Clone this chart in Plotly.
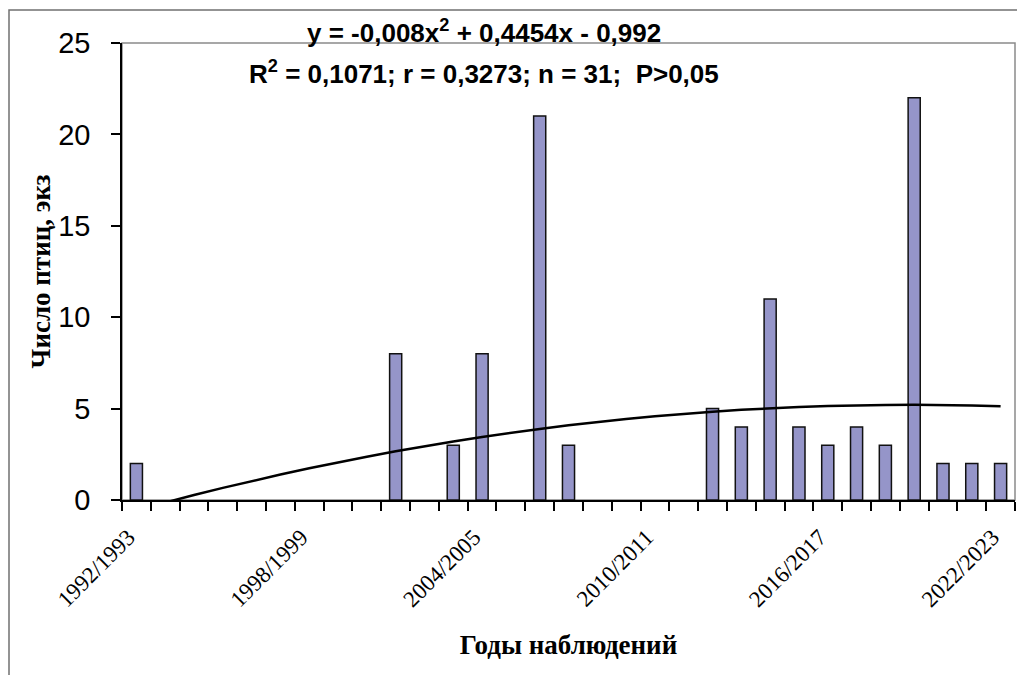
import plotly.graph_objects as go

# ---- data ----
SEASONS = [f"{y}/{y+1}" for y in range(1992, 2023)]  # 31 seasons, 1992/1993 .. 2022/2023
COUNTS = [2, 0, 0, 0, 0, 0, 0, 0, 0, 8, 0, 3, 8, 0, 21, 3,
          0, 0, 0, 0, 5, 4, 11, 4, 3, 4, 3, 22, 2, 2, 2]
# trend line coefficients as printed on the chart: y = a*x^2 + b*x + c, x = 1..31
TREND_A, TREND_B, TREND_C = -0.008, 0.4454, -0.992
EQ_TEXT = "y = -0,008x<sup>2</sup> + 0,4454x - 0,992"
STATS_TEXT = "R<sup>2</sup> = 0,1071; r = 0,3273; n = 31;  P>0,05"
TICK_STEP = 6

idx = list(range(len(SEASONS)))
trend = [TREND_A * (i + 1) ** 2 + TREND_B * (i + 1) + TREND_C for i in idx]
bar_y = [v if v else None for v in COUNTS]  # zero seasons draw no bar

SANS = "Liberation Sans, Arial, sans-serif"
SERIF = "Liberation Serif, Times New Roman, serif"

fig = go.Figure()
fig.add_trace(go.Bar(
    x=idx, y=bar_y, width=0.42,
    marker=dict(color="#9595C9", line=dict(color="#111111", width=1.5)),
    showlegend=False, hoverinfo="x+y",
))
fig.add_trace(go.Scatter(
    x=idx, y=trend, mode="lines",
    line=dict(color="black", width=2.5),
    showlegend=False, hoverinfo="skip",
))

OFF = 8  # page body margin
W, H = 1025 - OFF, 675 - OFF
L, R, T = 122 - OFF, 10, 43 - OFF
B = H - (500 - OFF)
pw, ph = W - L - R, H - T - B

def px(xp):
    return (xp - OFF - L) / pw

def py(yp):
    return (H - B - (yp - OFF)) / ph

LABEL_SHIFT = 0.28  # labels sit slightly left of their category centre, as in Excel

fig.update_layout(
    width=W, height=H, autosize=False,
    margin=dict(l=L, r=R, t=T, b=B, pad=0),
    paper_bgcolor="white", plot_bgcolor="white",
    xaxis=dict(
        automargin=False,
        range=[-0.5, len(SEASONS) - 0.5],
        tickmode="array",
        tickvals=[i - LABEL_SHIFT for i in idx[::TICK_STEP]],
        ticktext=SEASONS[::TICK_STEP],
        tickangle=-45,
        ticks="outside", ticklen=0,
        ticklabelstandoff=13,
        tickfont=dict(family=SERIF, size=23, color="black"),
        showline=True, linecolor="black", linewidth=1.5,
        showgrid=False, zeroline=False,
        minor=dict(tickmode="array",
                   tickvals=[i - 0.5 for i in idx] + [len(SEASONS) - 0.5],
                   ticks="outside", ticklen=9, tickwidth=1.5, tickcolor="black",
                   showgrid=False),
        title=dict(text="<b>Годы наблюдений</b>",
                   font=dict(family=SERIF, size=27, color="black"), standoff=24),
    ),
    yaxis=dict(
        automargin=False,
        range=[0, 25], dtick=5,
        ticks="outside", ticklen=9, tickwidth=1.5, tickcolor="black",
        tickfont=dict(family=SANS, size=29, color="black"),
        ticklabelstandoff=15,
        showline=True, linecolor="black", linewidth=1.5,
        showgrid=False, zeroline=False,
        title=dict(text="<b>Число птиц, экз</b>",
                   font=dict(family=SERIF, size=27, color="black"), standoff=0),
    ),
    shapes=[
        # plot area border (top/right grey)
        dict(type="rect", xref="paper", yref="paper", x0=0, x1=1, y0=0, y1=1,
             line=dict(color="#8a8a8a", width=1.5), layer="below"),
        # outer chart border
        dict(type="rect", xref="paper", yref="paper",
             x0=px(9), x1=px(1060), y0=py(710), y1=py(10),
             line=dict(color="#707070", width=1.5), layer="below"),
    ],
    annotations=[
        dict(text="<b>" + EQ_TEXT + "</b>", xref="paper", yref="paper",
             x=px(484), y=py(32), xanchor="center", yanchor="middle",
             showarrow=False, font=dict(family=SANS, size=26, color="black")),
        dict(text="<b>" + STATS_TEXT + "</b>", xref="paper", yref="paper",
             x=px(484), y=py(72), xanchor="center", yanchor="middle",
             showarrow=False, font=dict(family=SANS, size=26, color="black")),
    ],
)

fig.write_html("out.html")
